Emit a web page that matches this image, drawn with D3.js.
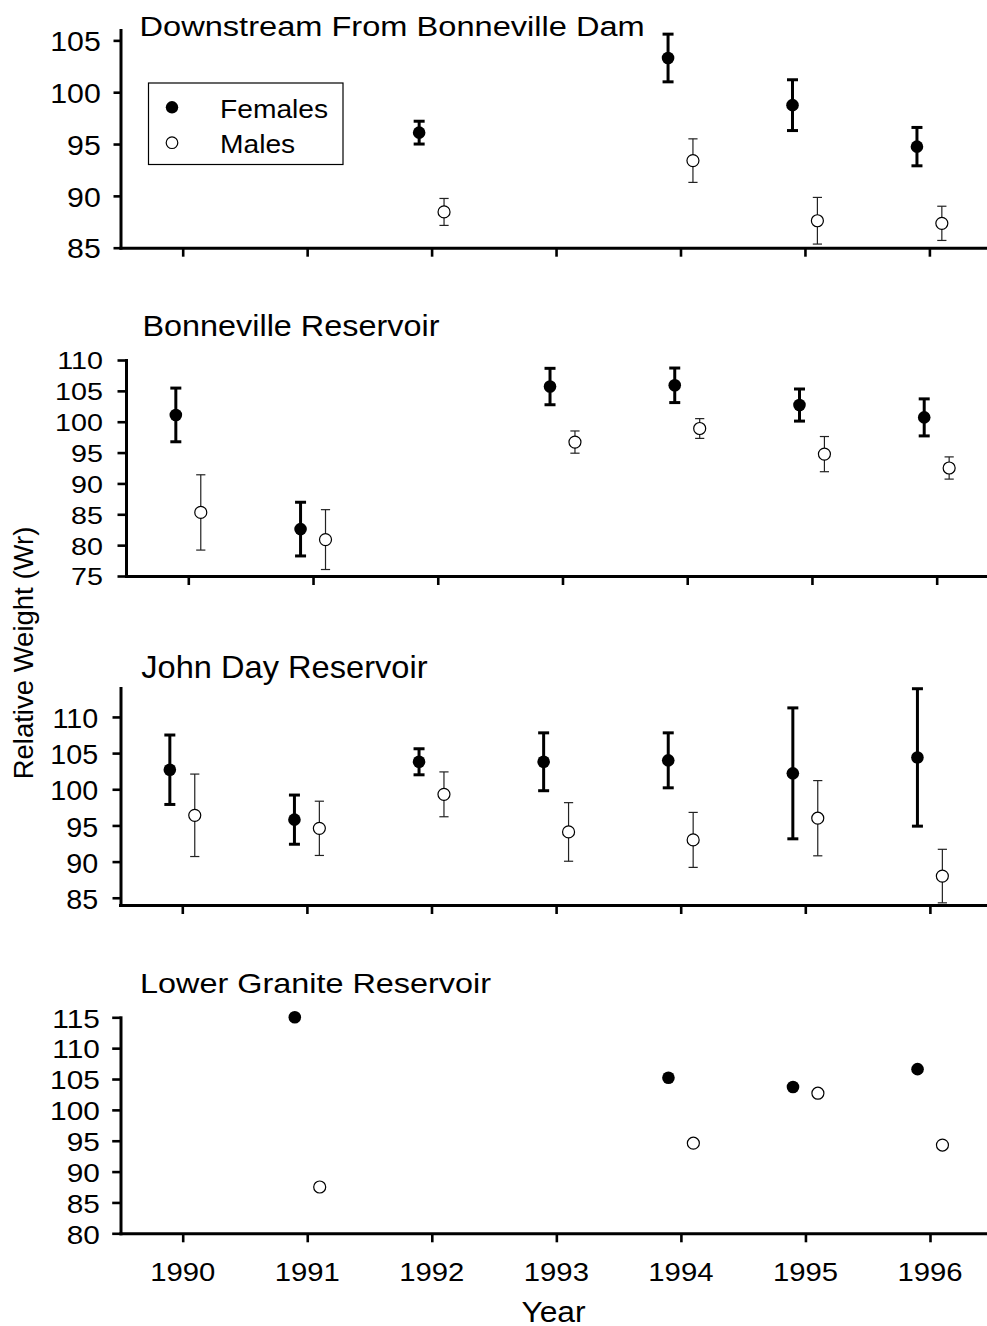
<!DOCTYPE html>
<html>
<head>
<meta charset="utf-8">
<script src="https://cdn.jsdelivr.net/npm/d3@7"></script>
<style>
  html, body { margin: 0; padding: 0; background: #fff; }
  svg { display: block; font-family: "Liberation Sans", Arial, sans-serif; }
</style>
</head>
<body>
<svg id="chart" width="987" height="1326"></svg>
<script>
// ---------------- DATA ----------------
const years = [1990, 1991, 1992, 1993, 1994, 1995, 1996];
const yearLabels = ["1990", "1991", "1992", "1993", "1994", "1995", "1996"];
const panelTitles = ["Downstream From Bonneville Dam", "Bonneville Reservoir", "John Day Reservoir", "Lower Granite Reservoir"];
const legendLabels = ["Females", "Males"];
const yAxisTitle = "Relative Weight (Wr)";
const xAxisTitle = "Year";

// Downstream From Bonneville Dam
const downTicks = [85, 90, 95, 100, 105];
const downFemaleMean = [null, null, 96.1, null, 103.3, 98.75, 94.75];
const downFemaleErr  = [null, null, 1.1,  null, 2.3,   2.45,  1.85];
const downMaleMean   = [null, null, 88.45, null, 93.4, 87.6,  87.35];
const downMaleErr    = [null, null, 1.3,  null, 2.1,   2.25,  1.65];

// Bonneville Reservoir
const bonnTicks = [75, 80, 85, 90, 95, 100, 105, 110];
const bonnFemaleMean = [101.1, 82.6, null, 105.7, 105.9, 102.7, 100.7];
const bonnFemaleErr  = [4.35,  4.35, null, 2.95,  2.8,   2.6,   3.0];
const bonnMaleMean   = [85.3,  80.9, null, 96.7,  98.9,  94.75, 92.5];
const bonnMaleErr    = [6.1,   4.85, null, 1.8,   1.6,   2.85,  1.8];

// John Day Reservoir
const jdTicks = [85, 90, 95, 100, 105, 110];
const jdFemaleMean = [102.7, 95.8, 103.8, 103.8, 104.0, 102.2, 104.4];
const jdFemaleErr  = [4.8,   3.4,  1.8,   4.0,   3.8,   9.05,  9.5];
const jdMaleMean   = [96.4,  94.6, 99.3,  94.1,  93.0,  96.0,  88.0];
const jdMaleErr    = [5.7,   3.75, 3.1,   4.05,  3.8,   5.2,   3.7];

// Lower Granite Reservoir (no error bars)
const lgTicks = [80, 85, 90, 95, 100, 105, 110, 115];
const lgFemaleMean = [null, 115.0, null, null, 105.2, 103.7, 106.6];
const lgMaleMean   = [null, 87.5,  null, null, 94.6,  102.7, 94.3];

// ---------------- LAYOUT ----------------
const svg = d3.select("#chart");
const W = 987;

const panels = [
  { title: panelTitles[0], ticks: downTicks, domain: [85, 106], yr: [247.7, 30],
    ax: 120.5, x1990: 182.7, perYear: 124.45,
    fm: downFemaleMean, fe: downFemaleErr, mm: downMaleMean, me: downMaleErr,
    titleX: 139.5, titleY: 36, titleSize: 32.6, titleSy: 0.86,
    tickSize: 7, tickPad: 12.7, tickFont: 30.3, tickSy: 0.885, legend: true },
  { title: panelTitles[1], ticks: bonnTicks, domain: [75, 110], yr: [576, 360],
    ax: 126, x1990: 188.3, perYear: 124.73,
    fm: bonnFemaleMean, fe: bonnFemaleErr, mm: bonnMaleMean, me: bonnMaleErr,
    titleX: 142.4, titleY: 336, titleSize: 32.4, titleSy: 0.9,
    tickSize: 8.5, tickPad: 14.6, tickFont: 28.7, tickSy: 0.82 },
  { title: panelTitles[2], ticks: jdTicks, domain: [84, 114], yr: [905, 688],
    ax: 120.5, x1990: 182.3, perYear: 124.6,
    fm: jdFemaleMean, fe: jdFemaleErr, mm: jdMaleMean, me: jdMaleErr,
    titleX: 141.3, titleY: 677.7, titleSize: 32.6, titleSy: 0.97,
    tickSize: 8, tickPad: 14.3, tickFont: 28.7, tickSy: 0.97 },
  { title: panelTitles[3], ticks: lgTicks, domain: [80, 115], yr: [1233.3, 1017.3],
    ax: 120.5, x1990: 182.7, perYear: 124.55,
    fm: lgFemaleMean, fe: null, mm: lgMaleMean, me: null,
    titleX: 140, titleY: 993.3, titleSize: 32.4, titleSy: 0.86,
    tickSize: 8.3, tickPad: 12.4, tickFont: 29.8, tickSy: 0.86, xLabels: true }
];

const OFF = 0.1; // female at year-0.1, male at year+0.1

function addText(g, txt, x, y, size, sy, anchor, rotate) {
  const t = g.append("text")
    .attr("transform", `translate(${x},${y})` + (rotate ? ` rotate(${rotate})` : "") + ` scale(1,${sy})`)
    .attr("font-size", size)
    .attr("text-anchor", anchor || "start")
    .attr("fill", "#000")
    .text(txt);
  return t;
}

panels.forEach((p) => {
  const g = svg.append("g");
  const x = d3.scaleLinear()
    .domain([1989.5, 1996.5])
    .range([p.x1990 - 0.5 * p.perYear, p.x1990 + 6.5 * p.perYear]);
  const y = d3.scaleLinear().domain(p.domain).range(p.yr);

  // title
  addText(g, p.title, p.titleX, p.titleY, p.titleSize, p.titleSy, "start");

  // error bars + points
  const drawSeries = (means, errs, female) => {
    years.forEach((yr, i) => {
      const m = means[i];
      if (m == null) return;
      const cx = x(yr + (female ? -OFF : OFF));
      if (errs && errs[i] != null) {
        const lo = Math.max(p.domain[0], m - errs[i]);
        const hi = m + errs[i];
        const sw = female ? 3 : 1.2;
        const cw = female ? 5.5 : 4.6;
        const col = female ? "#000" : "#222";
        g.append("line").attr("x1", cx).attr("x2", cx).attr("y1", y(lo)).attr("y2", y(hi))
          .attr("stroke", col).attr("stroke-width", sw);
        [lo, hi].forEach(v => {
          g.append("line").attr("x1", cx - cw).attr("x2", cx + cw).attr("y1", y(v)).attr("y2", y(v))
            .attr("stroke", col).attr("stroke-width", sw);
        });
      }
      g.append("circle").attr("cx", cx).attr("cy", y(m))
        .attr("r", female ? 6.3 : 6)
        .attr("fill", female ? "#000" : "#fff")
        .attr("stroke", "#000").attr("stroke-width", female ? 0 : 1.2);
    });
  };
  drawSeries(p.mm, p.me, false);
  drawSeries(p.fm, p.fe, true);

  // y axis
  const yAxis = d3.axisLeft(y).tickValues(p.ticks).tickSize(p.tickSize).tickPadding(p.tickPad)
    .tickSizeOuter(0).tickFormat(d3.format("d"));
  const ya = g.append("g").attr("transform", `translate(${p.ax},0)`).call(yAxis);
  ya.select(".domain").attr("stroke-width", 3).attr("stroke-linecap", "square");
  ya.selectAll(".tick line").attr("stroke-width", 2.6);
  ya.selectAll(".tick text")
    .attr("font-size", p.tickFont)
    .attr("font-family", "Liberation Sans, Arial, sans-serif")
    .attr("fill", "#000")
    .attr("dy", "0.38em")
    .attr("transform", `scale(1,${p.tickSy})`);

  // x axis
  const xAxis = d3.axisBottom(x).tickValues(years).tickSize(9).tickSizeOuter(0).tickFormat("");
  const xa = g.append("g").attr("transform", `translate(0,${p.yr[0]})`).call(xAxis);
  xa.select(".domain").attr("stroke-width", 3).attr("stroke-linecap", "square");
  xa.selectAll(".tick line").attr("stroke-width", 2.6);

  if (p.xLabels) {
    years.forEach((yr, i) => {
      addText(g, yearLabels[i], x(yr), 1280.7, 29.3, 0.9, "middle");
    });
  }

  if (p.legend) {
    const lg = svg.append("g");
    lg.append("rect").attr("x", 148.5).attr("y", 83).attr("width", 194.5).attr("height", 81.5)
      .attr("fill", "#fff").attr("stroke", "#000").attr("stroke-width", 1.2);
    lg.append("circle").attr("cx", 172).attr("cy", 107.3).attr("r", 6.2).attr("fill", "#000");
    lg.append("circle").attr("cx", 172).attr("cy", 142.7).attr("r", 5.8).attr("fill", "#fff")
      .attr("stroke", "#000").attr("stroke-width", 1.2);
    addText(lg, legendLabels[0], 220, 118.3, 28.2, 0.91, "start");
    addText(lg, legendLabels[1], 220, 153.3, 28.2, 0.91, "start");
  }
});

// axis titles
addText(svg, yAxisTitle, 33.3, 653, 27.5, 1, "middle", -90);
addText(svg, xAxisTitle, 553.5, 1321.7, 31.8, 0.91, "middle");
</script>
</body>
</html>
